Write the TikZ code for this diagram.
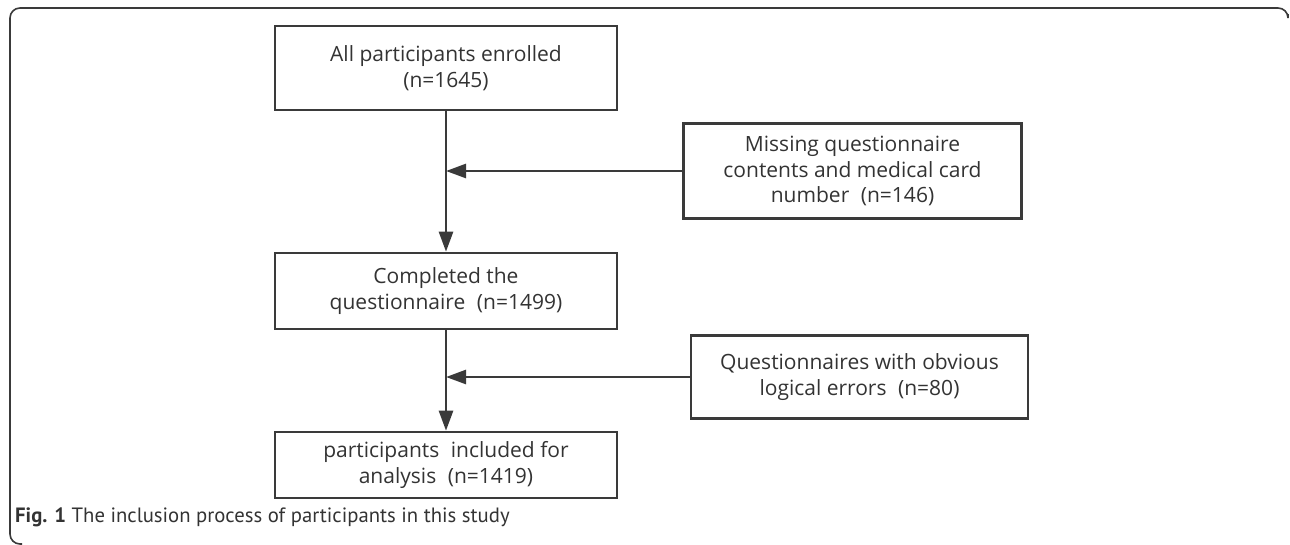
\documentclass[tikz,border=0pt]{standalone}
\usepackage{fontspec}
\setmainfont{Open Sans}
\newfontfamily\capfont{PT Sans}
\usetikzlibrary{arrows.meta}
\definecolor{ink}{HTML}{3A3A3A}
\definecolor{txt}{HTML}{333333}
\tikzset{
  flowbox/.style={draw=ink, line width=2.6pt, minimum width=342pt, align=center, text=txt,
    font=\fontsize{21}{25.5}\selectfont, inner sep=0pt},
  sidebox/.style={flowbox, minimum width=338pt},
  conn/.style={draw=ink, line width=2.6pt, -{Triangle[length=20pt,width=14pt]}},
}
\begin{document}
\begin{tikzpicture}[x=1pt,y=-1pt]
\useasboundingbox (0,0) rectangle (1290,544);
% frame
\draw[ink, line width=1.6pt, rounded corners=10pt] (1288,14) -- (1288,8) -- (10,8) -- (10,544) -- (22,544);
% main boxes
\node[flowbox, minimum height=84pt] (b1) at (446,68) {All participants enrolled\\(n=1645)};
\node[flowbox, minimum height=76pt] (b3) at (446,291) {Completed the\\questionnaire\hspace{0.55em}(n=1499)};
\node[flowbox, minimum height=66pt] (b5) at (446,465) {participants\hspace{0.55em}included for\\analysis\hspace{0.55em}(n=1419)};
% side boxes
\node[sidebox, minimum height=95pt] (b2) at (852.5,171) {Missing questionnaire\\contents and medical card\\number\hspace{0.55em}(n=146)};
\node[sidebox, minimum height=83pt, minimum width=337pt] (b4) at (859.5,377) {Questionnaires with obvious\\logical errors\hspace{0.55em}(n=80)};
% junctions
\coordinate (j1) at (b1.south |- b2.west);
\coordinate (j2) at (b3.south |- b4.west);
% connectors
\draw[conn] (b1.south) -- (b3.north);
\draw[conn] (b3.south) -- (b5.north);
\draw[conn] (b2.west) -- (j1);
\draw[conn] (b4.west) -- (j2);
% caption
\node[anchor=west, text=txt, font=\capfont\fontsize{20.7}{24}\selectfont, inner sep=0pt] (cap) at (15,517)
  {\textbf{Fig. 1} The inclusion process of participants in this study};
\end{tikzpicture}
\end{document}
